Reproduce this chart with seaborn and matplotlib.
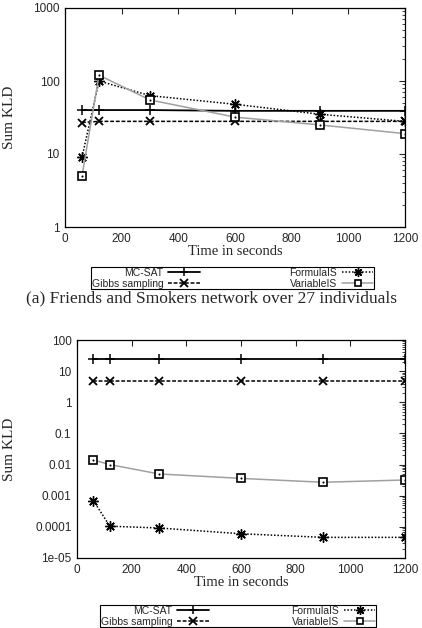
import matplotlib
matplotlib.use('Agg')
import matplotlib.pyplot as plt
import seaborn as sns
import pandas as pd
from matplotlib.lines import Line2D

sns.set_theme(style="white")
plt.rcParams['font.family'] = ['Liberation Sans', 'DejaVu Sans']

# x positions (seconds)
times = [60, 120, 300, 600, 900, 1200]

# (a) Friends and Smokers
a_mcsat = [40, 40, 40, 39, 39, 39]
a_gibbs = [27, 28, 28, 28, 28, 28]
a_formula = [9, 100, 63, 48, 35, 28]
a_variable = [5, 120, 55, 32, 25, 19]

# (b) second network
b_mcsat = [25, 25, 25, 25, 25, 25]
b_gibbs = [4.7, 4.7, 4.7, 4.7, 4.7, 4.7]
b_formula = [0.0007, 0.000105, 0.000092, 0.00006, 0.000046, 0.000046]
b_variable = [0.014, 0.010, 0.005, 0.0036, 0.0027, 0.0032]

series_names = ['MC-SAT', 'Gibbs sampling', 'FormulaIS', 'VariableIS']

styles = {
    'MC-SAT': dict(color='black', linestyle='-', marker='+', markersize=7.5, lw=1.3,
                   mec='black', mew=1.1),
    'Gibbs sampling': dict(color='black', linestyle=(0, (2.5, 1.2)), marker='x', markersize=6,
                           lw=1.1, mec='black', mew=1.3),
    'FormulaIS': dict(color='black', linestyle=(0, (1, 1.2)), marker=(8, 2, 0), markersize=7.5,
                      lw=1.1, mec='black', mew=1.0),
    'VariableIS': dict(color='#a0a0a0', linestyle='-', marker='s', markersize=5.5, lw=1.1,
                       mec='black', mfc='white', mew=1.2),
}

serif = ['Liberation Serif', 'DejaVu Serif']


def draw(ax, values, ylim, yticks, yticklabels):
    for name, vals in zip(series_names, values):
        df = pd.DataFrame({'t': times, 'v': vals})
        sns.lineplot(data=df, x='t', y='v', ax=ax, **styles[name])
        if name == 'VariableIS':
            sns.lineplot(data=df, x='t', y='v', ax=ax, lw=0, marker='.', markersize=1.5,
                         color='black', mec='black')
    ax.set_yscale('log')
    ax.set_xlim(0, 1200)
    ax.set_ylim(*ylim)
    ax.set_xticks(range(0, 1201, 200))
    ax.set_yticks(yticks)
    ax.set_yticklabels(yticklabels)
    ax.tick_params(which='both', direction='in', top=True, right=True, labelsize=8.5, pad=4)
    ax.tick_params(which='major', length=4, width=0.8)
    ax.tick_params(which='minor', length=2, width=0.6)
    ax.minorticks_on()
    ax.xaxis.set_minor_locator(matplotlib.ticker.NullLocator())
    for s in ax.spines.values():
        s.set_color('black')
        s.set_linewidth(0.9)
    ax.set_xlabel('Time in seconds', family=serif, fontsize=10.5, labelpad=0)
    ax.set_ylabel('Sum KLD', family=serif, fontsize=11)


def legend(fig, box):
    handles = [Line2D([], [], **{**styles[n], 'markersize': styles[n]['markersize'] * 0.85})
               for n in series_names]
    fig.legend(handles, series_names, ncol=2, markerfirst=False, loc='upper center',
               bbox_to_anchor=box, mode='expand', fontsize=7.5, frameon=True,
               fancybox=False, edgecolor='black', framealpha=1, borderpad=0.05,
               labelspacing=0.1, handlelength=3.0, handletextpad=0.5,
               columnspacing=1.0, borderaxespad=0).get_frame().set_linewidth(0.8)


fig = plt.figure(figsize=(4.22, 6.28), dpi=100)

ax1 = fig.add_axes([65 / 422, 1 - 227 / 628, 340 / 422, 219 / 628])
draw(ax1, [a_mcsat, a_gibbs, a_formula, a_variable], (1, 1000),
     [1, 10, 100, 1000], ['1', '10', '100', '1000'])
ax1.yaxis.set_label_coords(-0.145, 0.5)
legend(fig, (91 / 422, 1 - 285 / 628, 283 / 422, 18 / 628))
fig.text(0.5, 1 - 298 / 628, '(a) Friends and Smokers network over 27 individuals',
         family=serif, fontsize=12.5, ha='center', va='center')

ax2 = fig.add_axes([77 / 422, 1 - 558 / 628, 328 / 422, 218 / 628])
draw(ax2, [b_mcsat, b_gibbs, b_formula, b_variable], (1e-5, 100),
     [1e-5, 1e-4, 1e-3, 1e-2, 1e-1, 1, 10, 100],
     ['1e-05', '0.0001', '0.001', '0.01', '0.1', '1', '10', '100'])
ax2.yaxis.set_label_coords(-0.186, 0.5)
legend(fig, (100 / 422, 1 - 627 / 628, 276 / 422, 22 / 628))

fig.savefig('out.png', dpi=100)
